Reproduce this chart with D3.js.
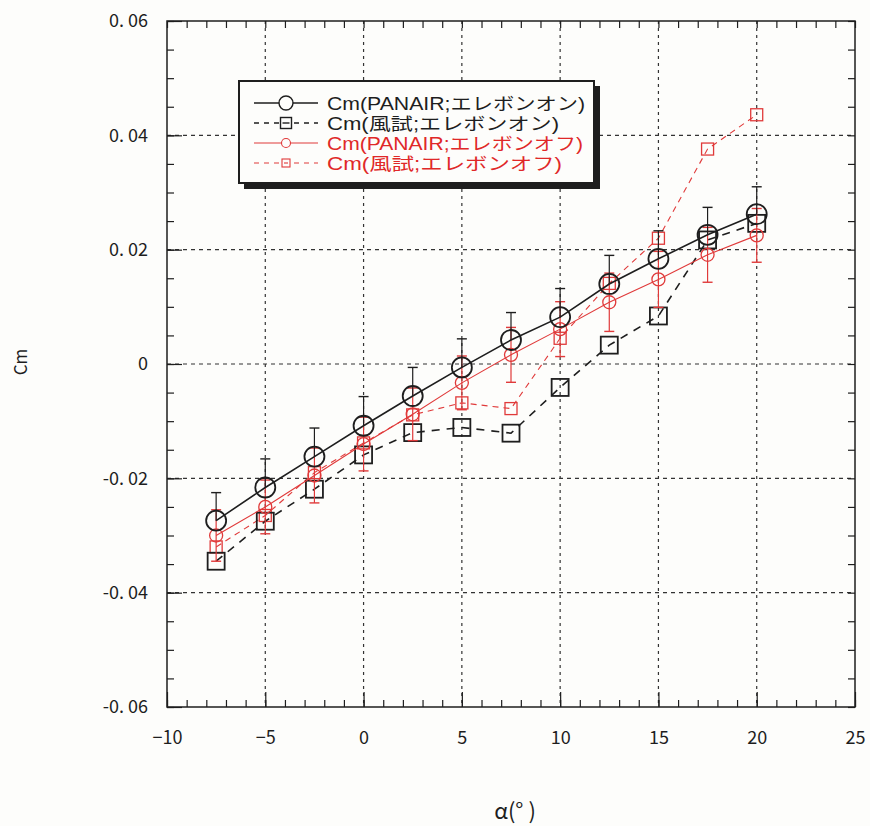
<!DOCTYPE html>
<html>
<head>
<meta charset="utf-8">
<script src="https://cdn.jsdelivr.net/npm/d3@7"></script>
<style>
body { margin: 0; background: #fdfdfb; }
svg text { font-family: "Noto Sans CJK JP", "Liberation Sans", sans-serif; }
svg text.leg { font-family: "Liberation Sans Narrow", "Liberation Sans", "Noto Sans CJK JP", sans-serif; }
</style>
</head>
<body>
<div id="chart"></div>
<script>
// data
var alpha = [-7.5, -5, -2.5, 0, 2.5, 5, 7.5, 10, 12.5, 15, 17.5, 20];
var cmPanairOn  = [-0.0274, -0.0216, -0.0162, -0.0108, -0.0056, -0.0006, 0.0042, 0.0082, 0.0140, 0.0184, 0.0226, 0.0262];
var errPanairOn = [0.0049, 0.0050, 0.0050, 0.0051, 0.0050, 0.0050, 0.0048, 0.0050, 0.0050, 0.0049, 0.0048, 0.0048];
var cmWindOn    = [-0.0345, -0.0275, -0.0219, -0.0159, -0.0120, -0.0111, -0.0121, -0.0041, 0.0033, 0.0084, 0.0217, 0.0246];
var cmPanairOff = [-0.0300, -0.0250, -0.0195, -0.0140, -0.0088, -0.0033, 0.0016, 0.0061, 0.0108, 0.0148, 0.0191, 0.0225];
var errPanairOff = [0.0045, 0.0047, 0.0048, 0.0047, 0.0046, 0.0047, 0.0048, 0.0048, 0.0051, 0.0049, 0.0048, 0.0047];
var cmWindOff   = [-0.0320, -0.0265, -0.0190, -0.0138, -0.0089, -0.0068, -0.0078, 0.0045, 0.0141, 0.0220, 0.0376, 0.0436];

var xTicks = [-10, -5, 0, 5, 10, 15, 20, 25];
var yTicks = [-0.06, -0.04, -0.02, 0, 0.02, 0.04, 0.06];
var xTickLabels = ["\u221210", "\u22125", "0", "5", "10", "15", "20", "25"];
var yTickLabels = ["-0. 06", "-0. 04", "-0. 02", "0", "0. 02", "0. 04", "0. 06"];
var legendLabels = ["Cm(PANAIR;エレボンオン)", "Cm(風試;エレボンオン)", "Cm(PANAIR;エレボンオフ)", "Cm(風試;エレボンオフ)"];

var width = 870, height = 826;
var red = "#e03a3a", ink = "#1e1e1e";

var svg = d3.select('#chart').append('svg')
    .attr('width', width)
    .attr('height', height);

var x = d3.scaleLinear().domain([-10, 25]).range([167, 855]);
var y = d3.scaleLinear().domain([-0.06, 0.06]).range([707, 21]);

// grid
svg.append('g').selectAll('line')
    .data(xTicks.slice(1, -1))
    .enter().append('line')
    .attr('x1', d => x(d)).attr('x2', d => x(d))
    .attr('y1', y(0.06)).attr('y2', y(-0.06))
    .attr('stroke', '#333').attr('stroke-width', 1.2)
    .attr('stroke-dasharray', '3,4');
svg.append('g').selectAll('line')
    .data(yTicks.slice(1, -1))
    .enter().append('line')
    .attr('x1', x(-10)).attr('x2', x(25))
    .attr('y1', d => y(d)).attr('y2', d => y(d))
    .attr('stroke', '#333').attr('stroke-width', 1.2)
    .attr('stroke-dasharray', '4,4');

// axes, ticks pointing inward on all four sides
var xMinor = d3.range(-10, 26, 1);
var yMinor = d3.range(-12, 13).map(i => i * 0.005);

function styleAxis(g) {
    g.select('.domain').remove();
    g.selectAll('.tick line').attr('stroke', ink).attr('stroke-width', 1.2);
    g.selectAll('.tick text').attr('fill', ink).style('font-size', '18px');
}

svg.append('g').attr('transform', 'translate(0,707)')
    .call(d3.axisBottom(x).tickValues(xMinor).tickSize(-7).tickFormat(''))
    .call(styleAxis);
svg.append('g').attr('transform', 'translate(0,707)')
    .call(d3.axisBottom(x).tickValues(xTicks).tickSize(-15).tickPadding(24)
        .tickFormat((d, i) => xTickLabels[i]))
    .call(styleAxis);
svg.append('g').attr('transform', 'translate(0,21)')
    .call(d3.axisTop(x).tickValues(xMinor).tickSize(-7).tickFormat(''))
    .call(styleAxis);
svg.append('g').attr('transform', 'translate(167,0)')
    .call(d3.axisLeft(y).tickValues(yMinor).tickSize(-7).tickFormat(''))
    .call(styleAxis);
svg.append('g').attr('transform', 'translate(167,0)')
    .call(d3.axisLeft(y).tickValues(yTicks).tickSize(-15).tickPadding(19)
        .tickFormat((d, i) => yTickLabels[i]))
    .call(styleAxis);
svg.append('g').attr('transform', 'translate(855,0)')
    .call(d3.axisRight(y).tickValues(yMinor).tickSize(-7).tickFormat(''))
    .call(styleAxis);

svg.append('rect')
    .attr('x', x(-10)).attr('y', y(0.06))
    .attr('width', x(25) - x(-10)).attr('height', y(-0.06) - y(0.06))
    .attr('fill', 'none').attr('stroke', ink).attr('stroke-width', 1.5);

// axis titles
svg.append('text')
    .attr('x', 515).attr('y', 819)
    .attr('text-anchor', 'middle')
    .style('font-size', '22px').attr('fill', ink)
    .text('α(° )');
svg.append('text')
    .attr('transform', 'translate(27,362) rotate(-90)')
    .attr('text-anchor', 'middle')
    .style('font-size', '17px').attr('fill', ink)
    .text('Cm');

// series
var pts = function(vals) { return alpha.map((a, i) => [a, vals[i]]); };
var line = d3.line().x(d => x(d[0])).y(d => y(d[1]));

var series = [
    {vals: cmWindOff, color: red, width: 1.1, dash: '6,5', mark: 'square', size: 12, err: null},
    {vals: cmWindOn, color: ink, width: 1.6, dash: '8,7', mark: 'square', size: 17, err: null},
    {vals: cmPanairOff, color: red, width: 1.1, dash: null, mark: 'circle', size: 6.5, err: errPanairOff, both: true},
    {vals: cmPanairOn, color: ink, width: 1.6, dash: null, mark: 'circle', size: 10, err: errPanairOn, both: false}
];

series.forEach(function(s) {
    var g = svg.append('g');
    var data = pts(s.vals);

    if (s.err) {
        var eb = g.selectAll('.err').data(data).enter().append('g');
        eb.append('line')
            .attr('x1', d => x(d[0])).attr('x2', d => x(d[0]))
            .attr('y1', (d, i) => y(s.both ? d[1] - s.err[i] : d[1]))
            .attr('y2', (d, i) => y(d[1] + s.err[i]))
            .attr('stroke', s.color).attr('stroke-width', 1.2);
        eb.append('line')
            .attr('x1', d => x(d[0]) - 5).attr('x2', d => x(d[0]) + 5)
            .attr('y1', (d, i) => y(d[1] + s.err[i]))
            .attr('y2', (d, i) => y(d[1] + s.err[i]))
            .attr('stroke', s.color).attr('stroke-width', 1.4);
        if (s.both) {
            eb.append('line')
                .attr('x1', d => x(d[0]) - 5).attr('x2', d => x(d[0]) + 5)
                .attr('y1', (d, i) => y(d[1] - s.err[i]))
                .attr('y2', (d, i) => y(d[1] - s.err[i]))
                .attr('stroke', s.color).attr('stroke-width', 1.4);
        }
    }

    g.append('path')
        .datum(data)
        .attr('d', line)
        .attr('fill', 'none')
        .attr('stroke', s.color)
        .attr('stroke-width', s.width)
        .attr('stroke-dasharray', s.dash);

    if (s.mark === 'circle') {
        g.selectAll('circle').data(data).enter().append('circle')
            .attr('cx', d => x(d[0])).attr('cy', d => y(d[1]))
            .attr('r', s.size)
            .attr('fill', 'none').attr('stroke', s.color).attr('stroke-width', s.width + 0.2);
    } else {
        g.selectAll('rect').data(data).enter().append('rect')
            .attr('x', d => x(d[0]) - s.size / 2).attr('y', d => y(d[1]) - s.size / 2)
            .attr('width', s.size).attr('height', s.size)
            .attr('fill', 'none').attr('stroke', s.color).attr('stroke-width', s.width + 0.2);
    }
});

// legend
var legend = svg.append('g');
legend.append('rect')
    .attr('x', 244).attr('y', 86).attr('width', 356).attr('height', 103)
    .attr('fill', ink);
legend.append('rect')
    .attr('x', 239).attr('y', 81).attr('width', 355).attr('height', 102)
    .attr('fill', '#fdfdfb').attr('stroke', ink).attr('stroke-width', 2);

var legendStyle = [
    {color: ink, dash: null, mark: 'circle', size: 7, width: 1.4, textW: 258},
    {color: ink, dash: '5,5', mark: 'square', size: 11, width: 1.4, textW: 232},
    {color: red, dash: null, mark: 'circle', size: 4.5, width: 1.1, textW: 256},
    {color: red, dash: '5,5', mark: 'square', size: 8, width: 1.1, textW: 235}
];

legendLabels.forEach(function(label, i) {
    var st = legendStyle[i];
    var cy = 103 + i * 20;
    legend.append('line')
        .attr('x1', 254).attr('x2', 318).attr('y1', cy).attr('y2', cy)
        .attr('stroke', st.color).attr('stroke-width', st.width)
        .attr('stroke-dasharray', st.dash);
    if (st.mark === 'circle') {
        legend.append('circle').attr('cx', 286).attr('cy', cy).attr('r', st.size)
            .attr('fill', '#fdfdfb').attr('stroke', st.color).attr('stroke-width', st.width);
    } else {
        legend.append('rect').attr('x', 286 - st.size / 2).attr('y', cy - st.size / 2)
            .attr('width', st.size).attr('height', st.size)
            .attr('fill', '#fdfdfb').attr('stroke', st.color).attr('stroke-width', st.width);
        legend.append('line').attr('x1', 286 - st.size / 2 + 2).attr('x2', 286 + st.size / 2 - 2)
            .attr('y1', cy).attr('y2', cy)
            .attr('stroke', st.color).attr('stroke-width', st.width);
    }
    legend.append('text')
        .attr('class', 'leg')
        .attr('x', 327).attr('y', cy + 7)
        .attr('textLength', st.textW)
        .attr('lengthAdjust', 'spacingAndGlyphs')
        .style('font-size', '17.5px')
        .attr('fill', st.color === red ? '#e02828' : ink)
        .text(label);
});
</script>
</body>
</html>
